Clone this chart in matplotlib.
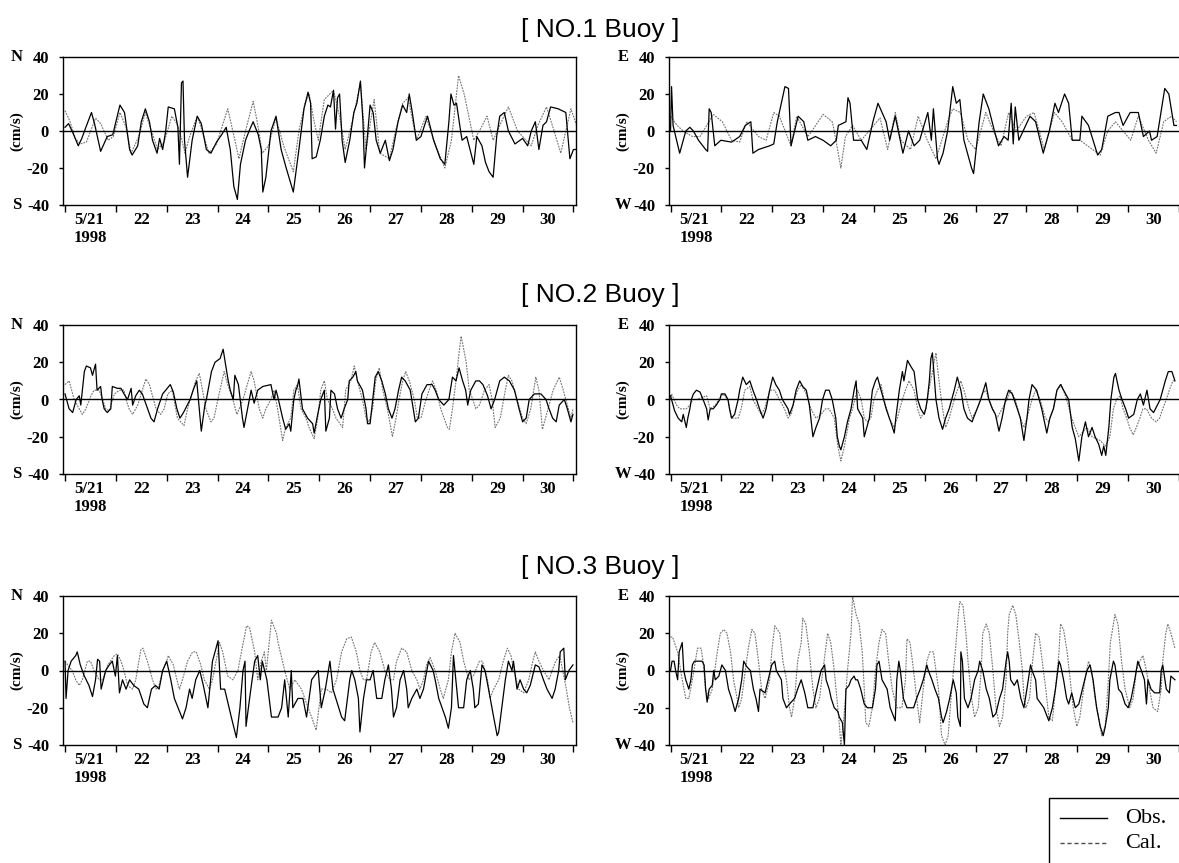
import matplotlib
matplotlib.use('Agg')
import matplotlib.pyplot as plt
import matplotlib.transforms as mtransforms
from matplotlib.lines import Line2D
from matplotlib.patches import Rectangle
import numpy as np

# ---- data: (day of May 1998, current in cm/s) ----
# Buoy 1, north-south
b1_ns_obs = [(21.0, 2), (21.07, 4), (21.17, -2), (21.26, -8), (21.33, -4), (21.41, 2), (21.52, 10), (21.58, 4),
             (21.70, -11), (21.83, -3), (21.94, -2), (22.0, 5), (22.08, 14), (22.17, 10), (22.27, -10), (22.32, -13),
             (22.43, -8), (22.5, 5), (22.58, 12), (22.66, 5), (22.72, -5), (22.81, -12), (22.86, -4), (22.92, -10),
             (22.98, 0), (23.03, 13), (23.15, 12), (23.22, 2), (23.25, -18), (23.29, 26), (23.32, 27), (23.35, -5),
             (23.41, -25), (23.5, -5), (23.60, 8), (23.68, 4), (23.78, -10), (23.87, -12), (23.98, -6), (24.08, -2),
             (24.17, 2), (24.25, -10), (24.32, -30), (24.39, -37), (24.45, -18), (24.55, -5), (24.62, 0), (24.70, 5),
             (24.80, -2), (24.86, -10), (24.89, -33), (24.95, -25), (25.05, 0), (25.15, 8), (25.25, -10), (25.35, -20),
             (25.49, -33), (25.60, -10), (25.70, 12), (25.78, 21), (25.83, 15), (25.86, -15), (25.94, -14), (26.02, -5),
             (26.10, 8), (26.17, 14), (26.22, 13), (26.28, 22), (26.32, 1), (26.36, 18), (26.40, 20), (26.45, -5),
             (26.51, -17), (26.60, -5), (26.68, 10), (26.74, 15), (26.81, 27), (26.86, 5), (26.89, -20), (26.95, -2),
             (27.0, 14), (27.06, 10), (27.12, -5), (27.20, -12), (27.30, -5), (27.38, -16), (27.45, -10), (27.55, 5),
             (27.64, 14), (27.72, 10), (27.77, 20), (27.83, 10), (27.91, -5), (28.0, -3), (28.13, 8), (28.25, -5),
             (28.38, -15), (28.47, -18), (28.55, 5), (28.59, 20), (28.65, 14), (28.70, 15), (28.78, 0), (28.81, -5),
             (28.90, -3), (29.04, -18), (29.10, -3), (29.20, -8), (29.27, -17), (29.34, -22), (29.42, -25), (29.49, -3),
             (29.55, 8), (29.64, 10), (29.72, 0), (29.85, -7), (30.0, -4), (30.10, -8), (30.17, 0), (30.25, 5),
             (30.32, -10), (30.40, 3), (30.47, 5), (30.55, 13), (30.70, 12), (30.85, 10), (30.93, -15), (31.0, -10),
             (31.1, -10)]
b1_ns_cal = [(21.0, 11), (21.1, 5), (21.2, -4), (21.3, -7), (21.42, -6), (21.6, 7), (21.7, 4), (21.85, -5), (21.95, -3),
             (22.08, 10), (22.2, 2), (22.3, -12), (22.45, -3), (22.58, 10), (22.7, 0), (22.82, -10), (22.95, -6),
             (23.1, 8), (23.2, 4), (23.3, -5), (23.36, -12), (23.45, -3), (23.6, 8), (23.7, 0), (23.83, -12),
             (23.98, -7), (24.2, 12), (24.3, 0), (24.42, -15), (24.55, 0), (24.7, 16), (24.78, 5), (24.88, -12),
             (25.0, -8), (25.15, 7), (25.3, -8), (25.49, -22), (25.6, 0), (25.72, 15), (25.8, 20), (25.9, 5),
             (25.98, -5), (26.1, 17), (26.28, 22), (26.4, 8), (26.51, -10), (26.65, 5), (26.81, 26), (26.92, -10),
             (27.08, 17), (27.19, -12), (27.38, -15), (27.5, 0), (27.64, 15), (27.75, 18), (27.91, -5), (28.1, 8),
             (28.25, -5), (28.47, -20), (28.6, -5), (28.74, 30), (28.85, 20), (29.04, -5), (29.15, 0), (29.3, 8),
             (29.42, -5), (29.55, 3), (29.72, 13), (29.9, 0), (30.17, -8), (30.3, 3), (30.47, 13), (30.62, 0),
             (30.75, -12), (30.95, 12), (31.1, 0)]

# Buoy 1, east-west
b1_ew_obs = [(21.0, 0), (21.02, 24), (21.05, 3), (21.18, -12), (21.3, 0), (21.38, 2), (21.45, 0), (21.55, -5),
             (21.69, -10), (21.73, -11), (21.76, 12), (21.8, 10), (21.87, -8), (21.99, -5), (22.2, -6), (22.36, -3),
             (22.47, 3), (22.58, 5), (22.62, -12), (22.73, -10), (22.95, -8), (23.03, -7), (23.1, 5), (23.25, 24),
             (23.32, 23), (23.37, -8), (23.51, 8), (23.62, 5), (23.7, -5), (23.85, -3), (24.0, -5), (24.15, -8),
             (24.26, -5), (24.3, 3), (24.45, 5), (24.49, 18), (24.53, 15), (24.6, -5), (24.75, -5), (24.86, -10),
             (24.98, 5), (25.08, 15), (25.16, 10), (25.24, 5), (25.31, -5), (25.42, 8), (25.57, -12), (25.68, 0),
             (25.79, -8), (25.9, -5), (26.06, 10), (26.13, -5), (26.17, 12), (26.25, -15), (26.28, -18), (26.36, -12),
             (26.45, 0), (26.55, 24), (26.62, 15), (26.69, 17), (26.77, -5), (26.92, -20), (26.96, -23), (27.07, 5),
             (27.15, 20), (27.26, 12), (27.37, 0), (27.45, -8), (27.56, -3), (27.64, -5), (27.7, 15), (27.74, -7),
             (27.78, 13), (27.85, -5), (28.07, 8), (28.18, 5), (28.33, -12), (28.45, 0), (28.56, 15), (28.63, 10),
             (28.75, 20), (28.83, 15), (28.9, -5), (29.05, -5), (29.09, 8), (29.22, 3), (29.4, -13), (29.48, -10),
             (29.6, 8), (29.75, 10), (29.82, 10), (29.9, 3), (30.04, 10), (30.2, 10), (30.3, -3), (30.42, 0),
             (30.46, -5), (30.57, -3), (30.72, 23), (30.8, 20), (30.9, 3), (30.95, 3)]
b1_ew_cal = [(21.0, 8), (21.05, 6), (21.13, 3), (21.25, 0), (21.43, -3), (21.58, -3), (21.84, 9), (22.02, 5),
             (22.2, -5), (22.36, -6), (22.5, 5), (22.73, -3), (22.88, -5), (23.03, 10), (23.14, 8), (23.37, -8),
             (23.48, 8), (23.7, -3), (23.78, 0), (24.0, 9), (24.18, 5), (24.22, 0), (24.35, -20), (24.44, -3),
             (24.58, 3), (24.75, -5), (25.12, 7), (25.27, -10), (25.42, 10), (25.53, -5), (25.72, -10), (25.87, 8),
             (26.05, -5), (26.22, -15), (26.45, 5), (26.55, 12), (26.7, 10), (26.85, -5), (27.0, -10), (27.2, 10),
             (27.35, 0), (27.5, -8), (27.65, 10), (27.8, 0), (28.0, 8), (28.15, 10), (28.35, -10), (28.55, 10),
             (28.7, 5), (28.9, -5), (29.05, -5), (29.3, -10), (29.45, -13), (29.6, 0), (29.75, 5), (29.9, 0),
             (30.05, -5), (30.2, 8), (30.4, -5), (30.55, -12), (30.7, 5), (30.85, 8), (30.95, 5)]

# Buoy 2, north-south
b2_ns_obs = [(21.0, 3), (21.08, -5), (21.15, -7), (21.22, 0), (21.28, 2), (21.31, -3), (21.38, 15), (21.42, 18),
             (21.5, 17), (21.54, 13), (21.6, 19), (21.63, 5), (21.7, 7), (21.73, 0), (21.77, -5), (21.83, -7),
             (21.9, -5), (21.93, 7), (22.03, 6), (22.1, 6), (22.16, 3), (22.23, 0), (22.3, 6), (22.33, -3),
             (22.39, 2), (22.46, 5), (22.52, 3), (22.69, -10), (22.75, -12), (22.82, -5), (22.92, 3), (22.98, 5),
             (23.07, 8), (23.13, 4), (23.2, -5), (23.26, -10), (23.33, -7), (23.46, 0), (23.52, 5), (23.59, 10),
             (23.68, -17), (23.75, -3), (23.78, 0), (23.88, 15), (23.95, 20), (24.05, 22), (24.11, 27), (24.15, 20),
             (24.21, 10), (24.25, 5), (24.31, 0), (24.34, 13), (24.41, 8), (24.49, -10), (24.52, -15), (24.59, -5),
             (24.66, 5), (24.72, -2), (24.79, 5), (24.89, 7), (25.05, 8), (25.11, 0), (25.15, 5), (25.18, 2),
             (25.28, -10), (25.34, -16), (25.41, -13), (25.44, -17), (25.5, 0), (25.54, 5), (25.57, 7), (25.6, 11),
             (25.67, -5), (25.77, -10), (25.87, -13), (25.9, -18), (25.97, -8), (26.03, 0), (26.1, 5), (26.13, -17),
             (26.2, -10), (26.23, 5), (26.3, 3), (26.36, -5), (26.43, -10), (26.49, -5), (26.56, 0), (26.59, 10),
             (26.66, 12), (26.72, 15), (26.75, 10), (26.85, 5), (26.92, -5), (26.95, -13), (27.0, -13), (27.1, 12),
             (27.16, 15), (27.23, 10), (27.3, 3), (27.36, -5), (27.43, -10), (27.49, -5), (27.56, 5), (27.62, 12),
             (27.69, 10), (27.79, 5), (27.89, -12), (27.95, -10), (28.02, 3), (28.12, 8), (28.22, 8), (28.28, 5),
             (28.35, 0), (28.45, -3), (28.55, 0), (28.62, 12), (28.69, 10), (28.75, 17), (28.82, 10), (28.88, 5),
             (28.92, -3), (28.98, 5), (29.08, 10), (29.15, 10), (29.22, 8), (29.31, 2), (29.38, -5), (29.45, 0),
             (29.55, 10), (29.64, 12), (29.74, 10), (29.84, 5), (29.93, -5), (30.0, -12), (30.07, -10), (30.13, 0),
             (30.23, 3), (30.36, 3), (30.46, 0), (30.52, -5), (30.59, -10), (30.66, -12), (30.72, -3), (30.82, 0),
             (30.88, -5), (30.95, -12), (30.99, -8)]
b2_ns_cal = [(21.0, 8), (21.08, 10), (21.18, 0), (21.28, -5), (21.34, -8), (21.41, -5), (21.51, 2), (21.57, 5),
             (21.67, 5), (21.74, 0), (21.8, -5), (21.87, -6), (21.97, 3), (22.07, 5), (22.16, 5), (22.2, 0),
             (22.26, -5), (22.33, -8), (22.43, -3), (22.52, 5), (22.59, 11), (22.66, 8), (22.79, -5), (22.88, -8),
             (22.95, -5), (23.02, 3), (23.11, 5), (23.21, -10), (23.34, -14), (23.41, -5), (23.57, 10), (23.64, 14),
             (23.67, 10), (23.77, -5), (23.87, -12), (23.93, -10), (24.03, 3), (24.13, 15), (24.2, 8), (24.3, 0),
             (24.38, -8), (24.5, 0), (24.66, 15), (24.72, 10), (24.82, -5), (24.89, -10), (24.95, -5), (25.05, 0),
             (25.11, 5), (25.18, -5), (25.28, -22), (25.34, -15), (25.44, -10), (25.5, 5), (25.57, 8), (25.64, -5),
             (25.74, -10), (25.8, -15), (25.9, -21), (25.97, -10), (26.03, 5), (26.1, 10), (26.16, 0), (26.26, -5),
             (26.33, -10), (26.46, -15), (26.52, 5), (26.62, 10), (26.69, 18), (26.75, 10), (26.85, 0), (26.92, -10),
             (26.98, -12), (27.05, -5), (27.11, 10), (27.18, 17), (27.25, 5), (27.34, -5), (27.44, -20), (27.51, -10),
             (27.57, 0), (27.64, 10), (27.7, 15), (27.77, 10), (27.87, 0), (27.93, -10), (28.0, -10), (28.1, 0),
             (28.16, 5), (28.23, 10), (28.3, 5), (28.39, -5), (28.52, -15), (28.56, -16), (28.62, -5), (28.69, 10),
             (28.75, 25), (28.79, 34), (28.82, 30), (28.89, 20), (28.95, 5), (29.02, 0), (29.08, -5), (29.15, -3),
             (29.25, 5), (29.34, 8), (29.4, 0), (29.46, -15), (29.56, -10), (29.66, 5), (29.72, 13), (29.79, 10),
             (29.89, 0), (30.0, -10), (30.07, -13), (30.16, -5), (30.26, 12), (30.32, 5), (30.39, -16), (30.5, -5),
             (30.6, 5), (30.72, 12), (30.8, 5), (30.9, -5), (30.95, -10), (30.99, -5)]

# Buoy 2, east-west
b2_ew_obs = [(21.0, 2), (21.02, 0), (21.08, -6), (21.15, -10), (21.22, -12), (21.25, -8), (21.31, -15), (21.34, -10),
             (21.38, -5), (21.41, 0), (21.45, 3), (21.51, 5), (21.58, 4), (21.64, 0), (21.71, -5), (21.74, -11),
             (21.78, -5), (21.84, -5), (21.9, -3), (21.97, 0), (22.0, 3), (22.07, 3), (22.13, 0), (22.16, -5),
             (22.2, -10), (22.26, -8), (22.33, 0), (22.36, 5), (22.42, 12), (22.49, 8), (22.56, 10), (22.62, 5),
             (22.69, 0), (22.75, -5), (22.82, -10), (22.88, -5), (22.95, 5), (23.01, 12), (23.07, 8), (23.14, 5),
             (23.2, 0), (23.31, -5), (23.34, -8), (23.41, -3), (23.47, 5), (23.54, 10), (23.6, 7), (23.67, 5),
             (23.73, -3), (23.76, -10), (23.8, -20), (23.86, -15), (23.93, -10), (23.99, 0), (24.05, 5), (24.12, 5),
             (24.18, 0), (24.25, -10), (24.28, -20), (24.32, -25), (24.35, -27), (24.42, -20), (24.48, -12),
             (24.55, -5), (24.61, 5), (24.65, 10), (24.68, -5), (24.78, -10), (24.81, -20), (24.91, -10), (24.97, 5),
             (25.03, 10), (25.07, 12), (25.14, 5), (25.24, -5), (25.33, -12), (25.4, -18), (25.43, -10), (25.5, 5),
             (25.56, 15), (25.59, 10), (25.66, 21), (25.72, 18), (25.79, 15), (25.86, 0), (25.92, -5), (25.99, -8),
             (26.02, -5), (26.05, 0), (26.09, 10), (26.12, 22), (26.15, 25), (26.22, 0), (26.28, -10), (26.35, -16),
             (26.41, -10), (26.48, -5), (26.58, 5), (26.64, 12), (26.71, 5), (26.77, -5), (26.84, -10), (26.93, -12),
             (27.03, -5), (27.1, 0), (27.2, 9), (27.26, 0), (27.33, -5), (27.39, -8), (27.46, -17), (27.52, -10),
             (27.59, 0), (27.65, 5), (27.72, 3), (27.82, -5), (27.88, -10), (27.95, -22), (28.01, -10), (28.05, 0),
             (28.11, 8), (28.2, 5), (28.3, -5), (28.4, -18), (28.46, -10), (28.53, -5), (28.6, 5), (28.67, 8),
             (28.73, 5), (28.83, 0), (28.9, -15), (28.96, -21), (29.03, -33), (29.09, -20), (29.16, -12), (29.22, -20),
             (29.29, -15), (29.35, -20), (29.42, -24), (29.48, -30), (29.52, -25), (29.56, -30), (29.62, -15),
             (29.66, 0), (29.72, 12), (29.75, 14), (29.82, 5), (29.88, 0), (29.95, -5), (30.01, -10), (30.11, -8),
             (30.18, 0), (30.24, 3), (30.3, -3), (30.37, 5), (30.43, -5), (30.5, -7), (30.63, 0), (30.73, 10),
             (30.79, 15), (30.86, 15), (30.92, 10)]
b2_ew_cal = [(21.0, 0), (21.02, 3), (21.12, -3), (21.18, -5), (21.31, -5), (21.38, -3), (21.44, 0), (21.51, 0),
             (21.71, 2), (21.78, -5), (21.88, -3), (21.95, 0), (22.03, 3), (22.13, 0), (22.2, -10), (22.33, -10),
             (22.39, -5), (22.46, 5), (22.56, 7), (22.62, 0), (22.72, -5), (22.78, -8), (22.85, -5), (22.95, 5),
             (23.05, 5), (23.14, 0), (23.24, -5), (23.31, -10), (23.37, -8), (23.44, 0), (23.5, 5), (23.57, 8),
             (23.67, 3), (23.76, -5), (23.86, -10), (23.96, -8), (24.05, -5), (24.12, -5), (24.22, -10), (24.29, -25),
             (24.35, -33), (24.42, -25), (24.52, -10), (24.58, -5), (24.65, 3), (24.68, 5), (24.75, 0), (24.81, -10),
             (24.87, -12), (24.94, -10), (25.0, 0), (25.07, 5), (25.14, 8), (25.2, 0), (25.3, -10), (25.4, -15),
             (25.46, -10), (25.56, 0), (25.62, 5), (25.69, 10), (25.79, 5), (25.86, -5), (25.92, -10), (26.02, -5),
             (26.08, 5), (26.15, 15), (26.22, 25), (26.28, 10), (26.35, -5), (26.41, -15), (26.48, -10), (26.58, 0),
             (26.64, 5), (26.71, 10), (26.77, 5), (26.87, -5), (26.93, -10), (27.03, -5), (27.13, 3), (27.2, 5),
             (27.26, 0), (27.33, -5), (27.42, -10), (27.52, -5), (27.62, 0), (27.69, 5), (27.78, 0), (27.88, -10),
             (27.95, -15), (28.01, -10), (28.11, 0), (28.18, 5), (28.27, 0), (28.37, -10), (28.44, -12), (28.53, -5),
             (28.6, 5), (28.69, 8), (28.79, 0), (28.89, -10), (28.96, -15), (29.03, -20), (29.09, -18), (29.19, -15),
             (29.29, -20), (29.45, -22), (29.55, -25), (29.64, -20), (29.71, -5), (29.77, 0), (29.84, 2), (29.9, -5),
             (29.97, -10), (30.03, -15), (30.1, -19), (30.16, -15), (30.23, -10), (30.29, -5), (30.36, -5),
             (30.46, -10), (30.55, -12), (30.62, -10), (30.68, -5), (30.75, 0), (30.81, 5), (30.88, 10), (30.92, 10)]

# Buoy 3, north-south
b3_ns_obs = [(21.0, 5), (21.02, -15), (21.06, 0), (21.12, 5), (21.21, 8), (21.24, 10), (21.3, 3), (21.38, -3),
             (21.47, -8), (21.54, -14), (21.6, -5), (21.64, 6), (21.68, 5), (21.71, -10), (21.8, 0), (21.87, 3),
             (21.93, 5), (21.99, -3), (22.03, 8), (22.07, -12), (22.13, -5), (22.2, -10), (22.27, -5), (22.35, -8),
             (22.45, -10), (22.55, -18), (22.62, -20), (22.7, -10), (22.78, -8), (22.85, -10), (22.92, 0), (23.0, 5),
             (23.08, -5), (23.15, -15), (23.31, -26), (23.38, -20), (23.45, -10), (23.5, -15), (23.57, -5),
             (23.65, 0), (23.72, -8), (23.81, -20), (23.9, 5), (24.01, 16), (24.06, -10), (24.14, -10), (24.27, -25),
             (24.37, -36), (24.44, -20), (24.5, 0), (24.54, 5), (24.56, -30), (24.63, -15), (24.73, 5), (24.79, 8),
             (24.84, -5), (24.88, 5), (24.97, -5), (25.06, -25), (25.19, -25), (25.26, -20), (25.32, -5), (25.39, -25),
             (25.45, 0), (25.48, -20), (25.58, -15), (25.68, -15), (25.75, -25), (25.85, -5), (25.98, 0),
             (26.04, -20), (26.12, -10), (26.21, 5), (26.27, -10), (26.44, -25), (26.5, -27), (26.6, -5), (26.64, 0),
             (26.7, -5), (26.77, -15), (26.8, -33), (26.87, -15), (26.93, -5), (27.0, -5), (27.06, 0), (27.13, -15),
             (27.23, -15), (27.29, -5), (27.36, 3), (27.42, -10), (27.46, -25), (27.52, -20), (27.59, -5), (27.66, 0),
             (27.72, -10), (27.75, -20), (27.82, -15), (27.92, -10), (27.98, -15), (28.05, -10), (28.15, 5),
             (28.24, 0), (28.28, -5), (28.35, -15), (28.48, -25), (28.54, -31), (28.6, -20), (28.64, 8), (28.74, -20),
             (28.84, -20), (28.9, -5), (28.97, 0), (29.03, -10), (29.06, -20), (29.13, -18), (29.2, 3), (29.26, 0),
             (29.33, -10), (29.43, -25), (29.5, -35), (29.53, -33), (29.59, -20), (29.66, -5), (29.72, 5), (29.79, 0),
             (29.82, 5), (29.89, -10), (29.95, -5), (30.02, -10), (30.08, -12), (30.15, -8), (30.25, 3), (30.32, 2),
             (30.41, -5), (30.48, -10), (30.58, -15), (30.64, -10), (30.71, 0), (30.74, 10), (30.81, 12),
             (30.84, -5), (30.91, 0), (30.99, 3)]
b3_ns_cal = [(21.0, 5), (21.05, 3), (21.14, 0), (21.21, -5), (21.28, -8), (21.34, -5), (21.44, 5), (21.5, 5),
             (21.57, 0), (21.67, -5), (21.74, -5), (21.84, 3), (21.97, 8), (22.03, 9), (22.1, 5), (22.16, 0),
             (22.23, -8), (22.33, -10), (22.39, -5), (22.49, 11), (22.53, 12), (22.62, 5), (22.72, -5), (22.79, -10),
             (22.85, -8), (22.92, 0), (23.0, 5), (23.03, 8), (23.13, 3), (23.2, -5), (23.25, -10), (23.31, -5),
             (23.41, 5), (23.51, 10), (23.58, 10), (23.67, 3), (23.74, -5), (23.84, -10), (23.9, -5), (23.97, 5),
             (24.04, 15), (24.1, 10), (24.2, -3), (24.3, -5), (24.4, 0), (24.47, 10), (24.57, 24), (24.63, 23),
             (24.73, 10), (24.79, -5), (24.86, 5), (24.92, 10), (24.96, 0), (25.06, 27), (25.16, 20), (25.19, 15),
             (25.32, 0), (25.42, -10), (25.52, -5), (25.65, -10), (25.78, -20), (25.85, -25), (25.94, -32),
             (26.04, -10), (26.14, -10), (26.24, -12), (26.34, -5), (26.44, 10), (26.54, 17), (26.63, 18),
             (26.73, 10), (26.8, 0), (26.87, -5), (26.93, -5), (27.02, 10), (27.09, 15), (27.19, 10), (27.29, 0),
             (27.39, -5), (27.46, -5), (27.52, 5), (27.62, 12), (27.72, 10), (27.82, 0), (27.92, -5), (27.98, -10),
             (28.05, -5), (28.11, 3), (28.18, 7), (28.28, 0), (28.38, -10), (28.44, -15), (28.54, -5), (28.6, 10),
             (28.67, 20), (28.77, 15), (28.84, 5), (28.94, -5), (29.03, -3), (29.15, 5), (29.21, 5), (29.31, -5),
             (29.36, -15), (29.43, -10), (29.53, -5), (29.62, 5), (29.7, 12), (29.77, 8), (29.83, 0), (29.92, -10),
             (30.02, -12), (30.12, -5), (30.2, 5), (30.25, 10), (30.32, 5), (30.41, 0), (30.52, -5), (30.58, 0),
             (30.65, 5), (30.73, 8), (30.79, 0), (30.86, -10), (30.92, -20), (30.99, -28)]

# Buoy 3, east-west
b3_ew_obs = [(21.0, 0), (21.03, 5), (21.07, 5), (21.1, 0), (21.14, -5), (21.17, 10), (21.23, 15), (21.26, 0),
             (21.3, -5), (21.36, -10), (21.4, -5), (21.43, 3), (21.47, 5), (21.62, 5), (21.66, 3), (21.69, -10),
             (21.72, -17), (21.76, -10), (21.82, -8), (21.85, 0), (21.88, -5), (21.95, -3), (22.01, 3), (22.08, 0),
             (22.14, -10), (22.2, -15), (22.27, -22), (22.34, -15), (22.4, -5), (22.44, 5), (22.5, 2), (22.57, 0),
             (22.63, -10), (22.68, -15), (22.73, -22), (22.76, -10), (22.86, -12), (22.92, -5), (22.99, 3), (23.05, 5),
             (23.08, 0), (23.18, -5), (23.21, -15), (23.28, -20), (23.34, -18), (23.44, -15), (23.5, -10), (23.57, -5),
             (23.64, -12), (23.7, -20), (23.8, -20), (23.86, -12), (23.96, 0), (24.03, 3), (24.06, -5), (24.12, -10),
             (24.16, -15), (24.22, -20), (24.29, -22), (24.32, -25), (24.38, -28), (24.42, -40), (24.45, -10),
             (24.51, -8), (24.55, -5), (24.61, -3), (24.64, -5), (24.68, -5), (24.74, -10), (24.81, -18), (24.87, -20),
             (24.97, -20), (25.03, -10), (25.06, 3), (25.1, 5), (25.16, -5), (25.26, -10), (25.32, -20), (25.39, -25),
             (25.42, -27), (25.45, -5), (25.49, 5), (25.52, 0), (25.58, -15), (25.65, -20), (25.78, -20),
             (25.84, -15), (25.91, -10), (25.97, -5), (26.04, 3), (26.07, 0), (26.14, -5), (26.2, -10), (26.27, -15),
             (26.33, -25), (26.36, -28), (26.43, -22), (26.49, -15), (26.56, -5), (26.62, -12), (26.65, -25),
             (26.7, -30), (26.71, 10), (26.74, 5), (26.78, -15), (26.85, -20), (26.91, -15), (26.98, -5), (27.05, 0),
             (27.08, 5), (27.14, 0), (27.21, -10), (27.27, -15), (27.34, -25), (27.4, -23), (27.47, -15), (27.53, -10),
             (27.6, 5), (27.63, 10), (27.66, 5), (27.69, -5), (27.76, -8), (27.82, -5), (27.89, -15), (27.95, -20),
             (28.02, -8), (28.08, 3), (28.11, 0), (28.18, -5), (28.21, -15), (28.34, -20), (28.44, -27), (28.51, -20),
             (28.57, -10), (28.64, 5), (28.67, 3), (28.73, -5), (28.79, -15), (28.83, -18), (28.89, -12),
             (28.96, -20), (29.03, -18), (29.1, -10), (29.19, 0), (29.25, 3), (29.31, -5), (29.38, -20), (29.45, -30),
             (29.51, -35), (29.55, -30), (29.61, -20), (29.64, -5), (29.71, 5), (29.74, 3), (29.81, -10),
             (29.87, -12), (29.94, -18), (30.0, -20), (30.06, -15), (30.13, -5), (30.19, 5), (30.26, 0), (30.32, -5),
             (30.36, -18), (30.39, -5), (30.45, -10), (30.52, -12), (30.62, -12), (30.65, 0), (30.68, 3),
             (30.75, -10), (30.81, -12), (30.84, -3), (30.92, -5)]
b3_ew_cal = [(21.0, 18), (21.04, 18), (21.14, 10), (21.23, -5), (21.3, -15), (21.36, -15), (21.43, -5), (21.49, 5),
             (21.53, 12), (21.6, 12), (21.64, 5), (21.69, -10), (21.75, -15), (21.82, -10), (21.92, 10), (21.98, 20),
             (22.05, 22), (22.11, 20), (22.18, 10), (22.24, -5), (22.31, -15), (22.34, -20), (22.4, -15), (22.47, 0),
             (22.53, 12), (22.6, 22), (22.66, 20), (22.73, 5), (22.79, -10), (22.86, -15), (22.95, -5), (22.99, 10),
             (23.05, 24), (23.15, 20), (23.21, 5), (23.28, -5), (23.34, -20), (23.38, -25), (23.44, -15), (23.5, 5),
             (23.57, 15), (23.6, 28), (23.66, 25), (23.73, 10), (23.8, -10), (23.86, -20), (23.93, -15), (24.02, 5),
             (24.09, 20), (24.15, 15), (24.22, 0), (24.29, -20), (24.32, -29), (24.35, -40), (24.41, -25), (24.48, 0),
             (24.55, 20), (24.58, 40), (24.65, 30), (24.71, 25), (24.77, 10), (24.81, -10), (24.84, -28), (24.9, -30),
             (24.97, -20), (25.03, 0), (25.1, 15), (25.16, 22), (25.23, 20), (25.29, 5), (25.36, -10), (25.45, -20),
             (25.55, -20), (25.62, -5), (25.65, 17), (25.71, 15), (25.78, 0), (25.84, -15), (25.9, -28), (25.97, -10),
             (26.04, 5), (26.1, 10), (26.17, 10), (26.27, -10), (26.33, -35), (26.4, -40), (26.46, -35), (26.53, -10),
             (26.6, 10), (26.66, 30), (26.69, 37), (26.75, 35), (26.81, 20), (26.85, 5), (26.92, -15), (26.98, -25),
             (27.05, -20), (27.11, 0), (27.14, 20), (27.21, 25), (27.27, 20), (27.34, 0), (27.4, -20), (27.47, -30),
             (27.53, -25), (27.6, -5), (27.63, 20), (27.66, 30), (27.73, 35), (27.79, 30), (27.86, 15), (27.92, 0),
             (27.95, -15), (27.99, -20), (28.06, -15), (28.12, 5), (28.18, 20), (28.25, 18), (28.31, 5), (28.38, -10),
             (28.44, -25), (28.51, -27), (28.57, -10), (28.64, 10), (28.67, 25), (28.73, 22), (28.8, 10), (28.86, -5),
             (28.92, -20), (28.99, -30), (29.05, -25), (29.15, -5), (29.22, 5), (29.28, 0), (29.35, -15),
             (29.42, -25), (29.48, -35), (29.55, -30), (29.61, -5), (29.65, 15), (29.71, 25), (29.74, 30), (29.8, 25),
             (29.87, 5), (29.94, -10), (30.03, -20), (30.1, -15), (30.16, 0), (30.23, 5), (30.29, 8), (30.36, 0),
             (30.42, -10), (30.49, -20), (30.58, -22), (30.65, -10), (30.68, 5), (30.74, 20), (30.78, 25),
             (30.84, 20), (30.92, 12)]

titles = ['[ NO.1 Buoy ]', '[ NO.2 Buoy ]', '[ NO.3 Buoy ]']
day_labels = ['5/21\n1998', '22', '23', '24', '25', '26', '27', '28', '29', '30']
y_ticks = [-40, -20, 0, 20, 40]

# ---- layout (pixel based, figure is 1179 x 863) ----
W, H = 1179, 863
fig = plt.figure(figsize=(W / 100, H / 100), dpi=100)

SERIF = 'Liberation Serif'
SANS = 'Liberation Sans'

rows = [(57, 205), (325, 474), (596, 745)]
title_y = [30, 295, 567]
left_x = (63, 576)
right_x = (669, 1179)


def px_box(x0, y0, x1, y1):
    return [x0 / W, 1 - y1 / H, (x1 - x0) / W, (y1 - y0) / H]


def draw_panel(ax, obs, cal, xlim, top_letter, bottom_letter, width_px):
    t, v = zip(*cal)
    ax.plot(t, v, color='0.45', lw=0.8, dashes=(1.6, 1.0))
    t, v = zip(*obs)
    ax.plot(t, v, color='black', lw=0.9)
    ax.axhline(0, color='black', lw=1.0)
    ax.set_xlim(*xlim)
    ax.set_ylim(-40, 40)

    # day boundaries get tick marks, the day labels sit at noon
    ax.set_xticks(np.arange(21, 32))
    ax.set_xticks(np.arange(21.5, 31), minor=True)
    ax.set_xticklabels(day_labels, minor=True, multialignment='left')
    ax.tick_params(axis='x', which='major', direction='out', length=5, width=1, labelbottom=False)
    ax.tick_params(axis='x', which='minor', length=0, pad=5)
    ax.set_yticks(y_ticks)
    ax.set_yticklabels([str(y) for y in y_ticks])
    ax.tick_params(axis='y', direction='out', length=3, width=1, pad=7)
    for lab in ax.get_xticklabels(minor=True) + ax.get_yticklabels():
        lab.set_fontfamily(SERIF)
        lab.set_fontweight('bold')
        lab.set_fontsize(12)
    for sp in ax.spines.values():
        sp.set_linewidth(1.0)

    tr = mtransforms.blended_transform_factory(ax.transAxes, ax.transData)
    lx = -46 / width_px
    ax.text(lx, 40, top_letter, transform=tr, ha='center', va='center',
            fontfamily=SERIF, fontweight='bold', fontsize=12)
    ax.text(lx, -40, bottom_letter, transform=tr, ha='center', va='center',
            fontfamily=SERIF, fontweight='bold', fontsize=12)
    ax.text(lx, 0, '(cm/s)', transform=tr, ha='center', va='center', rotation=90,
            fontfamily=SERIF, fontweight='bold', fontsize=11)


panels = [
    (b1_ns_obs, b1_ns_cal, b1_ew_obs, b1_ew_cal),
    (b2_ns_obs, b2_ns_cal, b2_ew_obs, b2_ew_cal),
    (b3_ns_obs, b3_ns_cal, b3_ew_obs, b3_ew_cal),
]

for i, (ns_obs, ns_cal, ew_obs, ew_cal) in enumerate(panels):
    y0, y1 = rows[i]
    axl = fig.add_axes(px_box(left_x[0], y0, left_x[1], y1))
    draw_panel(axl, ns_obs, ns_cal, (20.96, 31.05), 'N', 'S', left_x[1] - left_x[0])

    axr = fig.add_axes(px_box(right_x[0], y0, right_x[1], y1))
    draw_panel(axr, ew_obs, ew_cal, (20.97, 30.89), 'E', 'W', right_x[1] - right_x[0])
    axr.spines['right'].set_visible(False)

    fig.text(600 / W, 1 - title_y[i] / H, titles[i], ha='center', va='center',
             fontfamily=SANS, fontsize=19)

# legend box in the lower right corner, partly cut by the page edge
fig.add_artist(Rectangle((1049 / W, -0.02), 0.2, 0.02 + (H - 798) / H, transform=fig.transFigure,
                         fill=False, ec='black', lw=1.0))
fig.add_artist(Line2D([1060 / W, 1107 / W], [1 - 818 / H] * 2, transform=fig.transFigure,
                      color='black', lw=1.0))
fig.add_artist(Line2D([1060 / W, 1107 / W], [1 - 843 / H] * 2, transform=fig.transFigure,
                      color='0.3', lw=1.0, dashes=(3, 2)))
fig.text(1125 / W, 1 - 818 / H, 'Obs.', ha='left', va='center', fontfamily=SERIF, fontsize=16)
fig.text(1125 / W, 1 - 843 / H, 'Cal.', ha='left', va='center', fontfamily=SERIF, fontsize=16)

fig.savefig('out.png', dpi=100)
